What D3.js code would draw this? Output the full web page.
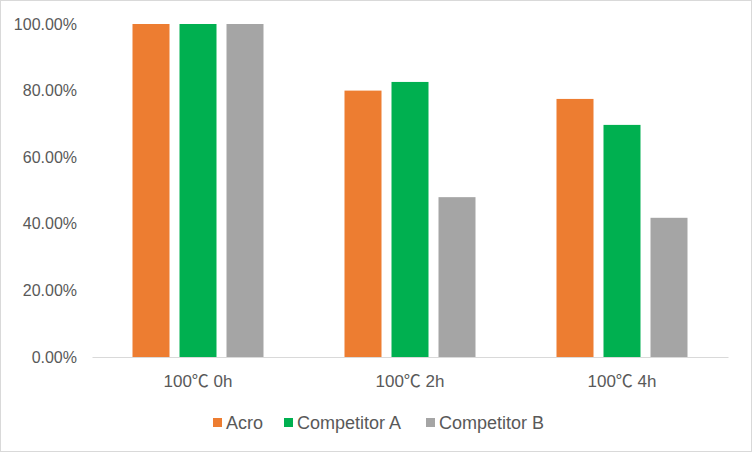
<!DOCTYPE html>
<html>
<head>
<meta charset="utf-8">
<script src="https://cdn.jsdelivr.net/npm/d3@7"></script>
<style>
  html, body { margin: 0; padding: 0; background: #fff; }
  svg { display: block; }
  text { font-family: "Liberation Sans", Arial, "Noto Sans CJK SC", sans-serif; fill: #595959; }
</style>
</head>
<body>
<script>
const categories = ["100℃ 0h", "100℃ 2h", "100℃ 4h"];
const seriesNames = ["Acro", "Competitor A", "Competitor B"];
const seriesColors = ["#ed7d31", "#00b050", "#a5a5a5"];
const acro = [1.00, 0.80, 0.775];
const competitorA = [1.00, 0.826, 0.697];
const competitorB = [1.00, 0.48, 0.418];
const yTicks = [0, 0.2, 0.4, 0.6, 0.8, 1.0];

const W = 752, H = 452;
const svg = d3.select("body").append("svg").attr("width", W).attr("height", H);

svg.append("rect").attr("x", 0.5).attr("y", 0.5).attr("width", W - 1).attr("height", H - 1)
  .attr("fill", "#fff").attr("stroke", "#d9d9d9").attr("stroke-width", 1);

const plot = { left: 92, right: 728, top: 24, bottom: 357 };

const x0 = d3.scaleBand().domain(categories).range([plot.left, plot.right]).paddingInner(0).paddingOuter(0);
const x1 = d3.scaleBand().domain(seriesNames).range([40.5, 212 - 40.5]).paddingInner(10 / 47).paddingOuter(0);
const y = d3.scaleLinear().domain([0, 1]).range([plot.bottom, plot.top]);

const seriesData = [acro, competitorA, competitorB];

// y-axis labels
const yAxis = d3.axisLeft(y).tickValues(yTicks).tickFormat(d3.format(".2%")).tickSize(0).tickPadding(0);
const gy = svg.append("g").attr("transform", `translate(77,0)`).call(yAxis);
gy.select(".domain").remove();
gy.selectAll("text").style("font-size", "16px").attr("fill", "#595959")
  .style("font-family", "'Liberation Sans', Arial, sans-serif");

// bars
const groups = svg.append("g").selectAll("g").data(categories).join("g")
  .attr("transform", d => `translate(${x0(d)},0)`);
groups.selectAll("rect")
  .data((c, i) => seriesNames.map((s, j) => ({ s, v: seriesData[j][i], color: seriesColors[j] })))
  .join("rect")
  .attr("x", d => x1(d.s))
  .attr("width", x1.bandwidth())
  .attr("y", d => y(d.v))
  .attr("height", d => y(0) - y(d.v))
  .attr("fill", d => d.color);

// x axis
const xAxis = d3.axisBottom(x0).tickSize(0).tickPadding(0);
const gx = svg.append("g").attr("transform", `translate(0,${plot.bottom})`).call(xAxis);
gx.select(".domain").attr("stroke", "#d9d9d9").attr("stroke-width", 1.2);
gx.selectAll("text").attr("y", 30).attr("dy", 0)
  .style("font-size", "17px").attr("fill", "#595959")
  .style("font-family", "'Liberation Sans', Arial, 'Noto Sans CJK SC', sans-serif");

// legend
const legendX = [213, 284, 426];
const legend = svg.append("g");
seriesNames.forEach((name, i) => {
  const g = legend.append("g").attr("transform", `translate(${legendX[i]},418)`);
  g.append("rect").attr("width", 9).attr("height", 9).attr("fill", seriesColors[i]);
  g.append("text").attr("x", 13).attr("y", 11).text(name)
    .style("font-size", "18px");
});
</script>
</body>
</html>
